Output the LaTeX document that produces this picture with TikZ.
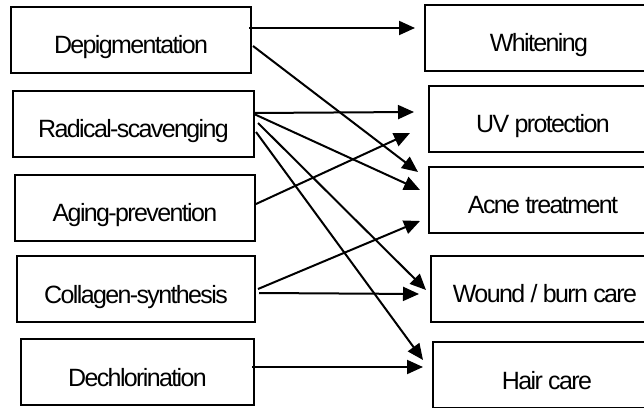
\documentclass[tikz,border=0pt]{standalone}
\usepackage{fontspec}
\newfontfamily\labfont[LetterSpace=-6.5]{Liberation Sans}
\usetikzlibrary{arrows.meta,calc}
\begin{document}
\begin{tikzpicture}[x=1pt,y=1pt,
  box/.style={draw=black, line width=2pt, rectangle, inner sep=0pt,
    minimum height=66pt, text height=28pt, text depth=0pt,
    font=\labfont\fontsize{25}{30}\selectfont},
  conn/.style={line width=2pt, -{Triangle[length=16pt,width=14pt]}}]
\useasboundingbox (0,0) rectangle (644,407);
\clip (0,0) rectangle (644,407);
\fill[white] (0,0) rectangle (644,407);
% left boxes
\node[box, minimum width=240pt] (dep) at (131,367) {Depigmentation};
\node[box, minimum width=241pt] (rad) at (133.5,283) {Radical-scavenging};
\node[box, minimum width=240pt] (age) at (135,199) {Aging-prevention};
\node[box, minimum width=238pt] (col) at (136,118) {Collagen-synthesis};
\node[box, minimum width=233pt] (dec) at (137.5,35) {Dechlorination};
% right boxes
\node[box, minimum width=228pt] (whi) at (539,369) {Whitening};
\node[box, minimum width=228pt] (uv) at (543,288) {UV protection};
\node[box, minimum width=228pt] (acne) at (543,207) {Acne treatment};
\node[box, minimum width=228pt] (wound) at (545,118.5) {Wound / burn care};
\node[box, minimum width=228pt] (hair) at (547,32) {Hair care};
% connectors
\draw[conn] ($(dep.east)+(-3,12)$) -- ($(whi.west)+(-9,10)$);
\draw[conn] ($(dep.east)+(1,-6)$) -- ($(acne.west)+(-10,28)$);
\draw[conn] ($(rad.east)+(-1,11)$) -- ($(uv.west)+(-14,7)$);
\draw[conn] ($(rad.east)+(-1,10)$) -- ($(acne.west)+(-8,10)$);
\draw[conn] ($(rad.east)+(3,1)$) -- ($(wound.west)+(-4,-1.5)$);
\draw[conn] ($(rad.east)+(1,-8)$) -- ($(hair.west)+(-9,15)$);
\draw[conn] ($(age.east)+(0,4)$) -- ($(uv.west)+(-18,-14)$);
\draw[conn] ($(col.east)+(2,0)$) -- ($(acne.west)+(-8,-21)$);
\draw[conn] ($(col.east)+(3,-4)$) -- ($(wound.west)+(-11,-5.5)$);
\draw[conn] ($(dec.east)+(-3,5)$) -- ($(hair.west)+(-9,8)$);
\end{tikzpicture}
\end{document}
